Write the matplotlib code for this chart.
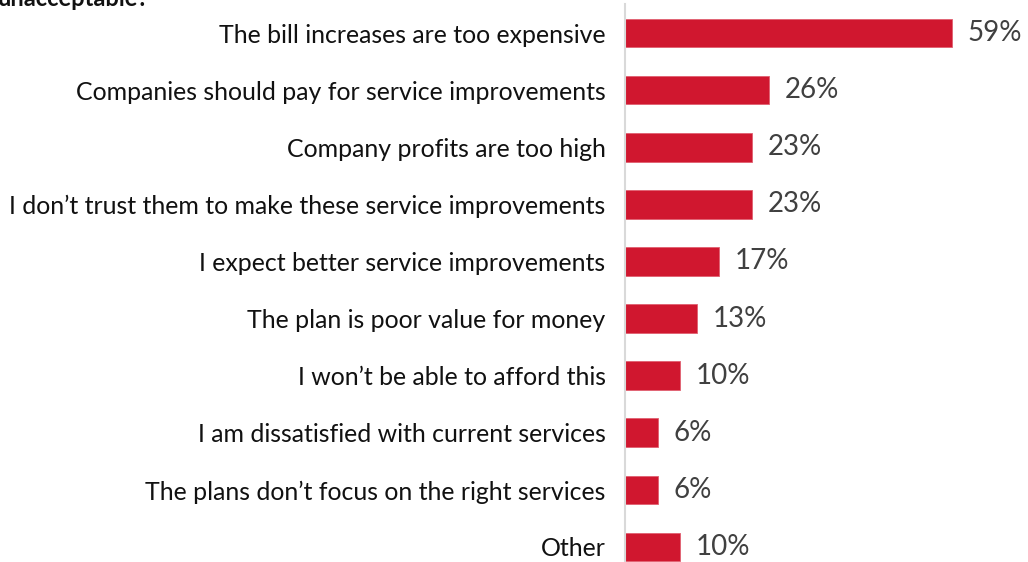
import matplotlib.pyplot as plt

plt.rcParams['font.family'] = ['Lato', 'DejaVu Sans']

reasons = [
    "The bill increases are too expensive",
    "Companies should pay for service improvements",
    "Company profits are too high",
    "I don\u2019t trust them to make these service improvements",
    "I expect better service improvements",
    "The plan is poor value for money",
    "I won\u2019t be able to afford this",
    "I am dissatisfied with current services",
    "The plans don\u2019t focus on the right services",
    "Other",
]
values = [59, 26, 23, 23, 17, 13, 10, 6, 6, 10]

fig = plt.figure(figsize=(10.28, 5.62), dpi=100)
ax = fig.add_axes([625 / 1028, -0.024, 400 / 1028, 1.016])

ypos = list(range(len(reasons)))
ax.barh(ypos, values, height=0.5, color='#D0172F', edgecolor='#E06070', linewidth=0.6)
ax.set_ylim(len(reasons) - 0.5, -0.5)
ax.set_xlim(0, 400 / 5.54)

for y, v in zip(ypos, values):
    ax.text(v + 2.8, y, f"{v}%", va='center', ha='left', fontsize=20, color='#404040')

ax.set_yticks(ypos)
ax.set_yticklabels(reasons, fontsize=17.9, color='#111111')
ax.tick_params(axis='y', length=0, pad=14)
ax.set_xticks([])
for s in ['top', 'right', 'bottom']:
    ax.spines[s].set_visible(False)
ax.spines['left'].set_color('#d9d9d9')
ax.spines['left'].set_linewidth(1.5)

fig.text(-0.002, 1 - 6 / 562, "unacceptable?", fontsize=17, fontweight='bold',
         ha='left', va='baseline', color='#111111')

fig.savefig('out.png', dpi=100)
